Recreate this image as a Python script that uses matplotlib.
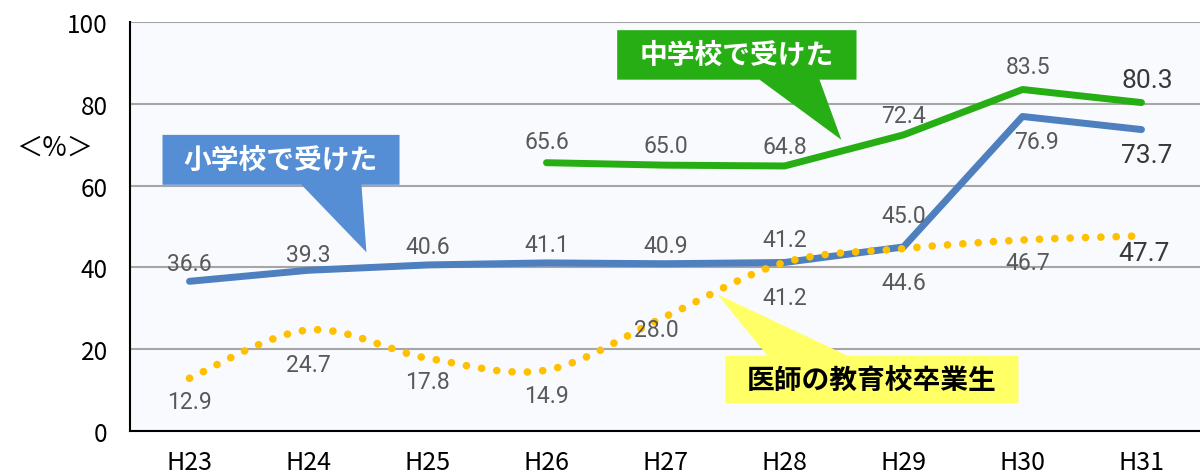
import numpy as np
import matplotlib.pyplot as plt
from matplotlib.path import Path
from matplotlib.patches import PathPatch, Polygon

# data
years = ["H23", "H24", "H25", "H26", "H27", "H28", "H29", "H30", "H31"]
elementary = [36.6, 39.3, 40.6, 41.1, 40.9, 41.2, 45.0, 76.9, 73.7]
junior_years = ["H26", "H27", "H28", "H29", "H30", "H31"]
junior = [65.6, 65.0, 64.8, 72.4, 83.5, 80.3]
graduates = [12.9, 24.7, 17.8, 14.9, 28.0, 41.2, 44.6, 46.7, 47.7]
yticks = [0, 20, 40, 60, 80, 100]

label_elem = "小学校で受けた"
label_junior = "中学校で受けた"
label_grad = "医師の教育校卒業生"

# colours / styles
BLUE = "#4E7FBE"
GREEN = "#27AE14"
YELLOW = "#FFC000"
BOX_BLUE = "#558ED5"
BOX_GREEN = "#27AE14"
BOX_YELLOW = "#FFFF66"
LABEL_C = "#595959"
LAST_C = "#383838"

CJK = ["Noto Sans CJK JP", "DejaVu Sans"]
plt.rcParams["font.family"] = CJK


def smooth_path(x, y):
    # Catmull-Rom style bezier, like Excel's smoothed line
    n = len(x)
    verts = [(x[0], y[0])]
    codes = [Path.MOVETO]
    for i in range(n - 1):
        a = max(i - 1, 0)
        d = min(i + 2, n - 1)
        c1 = (x[i] + (x[i + 1] - x[a]) / 6, y[i] + (y[i + 1] - y[a]) / 6)
        c2 = (x[i + 1] - (x[d] - x[i]) / 6, y[i + 1] - (y[d] - y[i]) / 6)
        verts += [c1, c2, (x[i + 1], y[i + 1])]
        codes += [Path.CURVE4] * 3
    return Path(verts, codes)


def put_labels(ax, xs, ys, offs, dxs=None, last_big=True):
    for k, (xv, yv, o) in enumerate(zip(xs, ys, offs)):
        dx = dxs[k] if dxs else 0
        last = last_big and k == len(xs) - 1
        ax.annotate(f"{yv:.1f}", (xv, yv), xytext=(dx, o),
                    textcoords="offset points", ha="center", va="center",
                    family="Roboto", fontsize=19 if last else 16.5,
                    color=LAST_C if last else LABEL_C, zorder=6)


def callout(ax, box, wedge, color, text, tcolor):
    x0, x1, y0, y1 = box
    pts = [(x0, y1), (x1, y1), (x1, y0)]
    pts += wedge
    pts += [(x0, y0)]
    ax.add_patch(Polygon(pts, closed=True, facecolor=color,
                         edgecolor="none", zorder=7))
    ax.text((x0 + x1) / 2, (y0 + y1) / 2, text, ha="center", va="center",
            color=tcolor, fontsize=20, fontweight="bold", family=CJK,
            zorder=8)


def plot_main():
    fig = plt.figure(figsize=(12, 4.77), dpi=100)
    ax = fig.add_axes([130 / 1200, 45 / 477, 1071 / 1200, 409 / 477])
    ax.set_facecolor("#F9FAFD")

    xi = np.arange(len(years))
    xj = np.array([years.index(y) for y in junior_years])

    ax.plot(xi, elementary, "-", color=BLUE, lw=5, solid_capstyle="round",
            solid_joinstyle="round", zorder=3)
    ax.plot(xj, junior, "-", color=GREEN, lw=5, solid_capstyle="round",
            solid_joinstyle="round", zorder=3)
    ax.add_patch(PathPatch(smooth_path(xi, graduates), facecolor="none",
                           edgecolor=YELLOW, lw=5.5, capstyle="round",
                           linestyle=(0, (0.01, 2.0)), zorder=4))

    put_labels(ax, xi, elementary,
               [13, 11.5, 13, 13, 13, 16.5, 23, -18, -18],
               [0, 0, 0, 0, 0, 0, 0, 10, 4])
    put_labels(ax, xj, junior, [15, 14, 14, 14, 16.5, 16.5],
               [0, 0, 0, 0, 4, 4])
    put_labels(ax, xi, graduates,
               [-16.5, -24.5, -16.5, -18, -9.5, -25, -24.5, -16, -12],
               [0, 0, 0, 0, -6.5, 0, 0, 4, 2])

    callout(ax, (-0.227, 1.765, 60.2, 72.4),
            [(1.445, 60.2), (1.487, 43.7), (0.941, 60.2)],
            BOX_BLUE, label_elem, "white")
    callout(ax, (3.594, 5.605, 85.9, 98.0),
            [(5.294, 85.9), (5.478, 71.2), (4.790, 85.9)],
            BOX_GREEN, label_junior, "white")
    # yellow box has the wedge on its top edge
    x0, x1, y0, y1 = 4.504, 6.966, 6.8, 18.4
    ax.add_patch(Polygon([(x0, y1), (4.857, y1), (4.437, 33.4), (5.529, y1),
                          (x1, y1), (x1, y0), (x0, y0)], closed=True,
                         facecolor=BOX_YELLOW, edgecolor="none", zorder=7))
    ax.text((x0 + x1) / 2, (y0 + y1) / 2, label_grad, ha="center",
            va="center", color="black", fontsize=20, fontweight="bold",
            family=CJK, zorder=8)

    ax.set_xlim(-0.5, 8.5)
    ax.set_ylim(0, 100)
    ax.set_xticks(xi)
    ax.set_xticklabels(years)
    ax.set_yticks(yticks)
    ax.tick_params(axis="x", length=0, pad=13, labelsize=18)
    ax.tick_params(axis="y", length=0, pad=16, labelsize=17.5)
    ax.grid(axis="y", color="#A6A6A6", lw=1.5, zorder=1)
    ax.set_axisbelow(True)
    for s in ["top", "right"]:
        ax.spines[s].set_visible(False)
    for s in ["left", "bottom"]:
        ax.spines[s].set_color("black")
        ax.spines[s].set_linewidth(1.5)

    fig.text(55 / 1200, 1 - 148 / 477, "＜%＞", ha="center", va="center",
             fontsize=19, family=CJK)

    fig.savefig("out.png", dpi=100)


if __name__ == '__main__':
    plot_main()
